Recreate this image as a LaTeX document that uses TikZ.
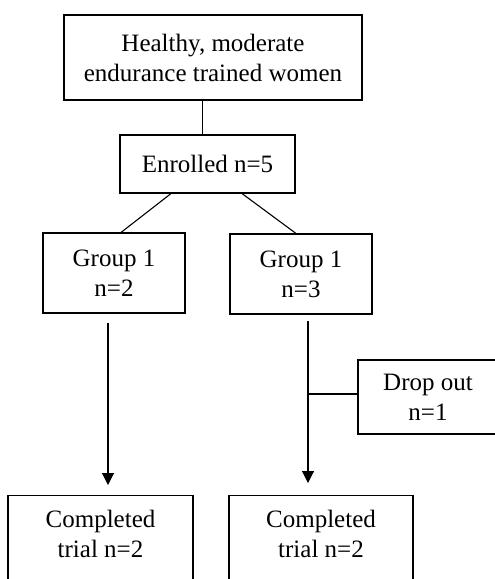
\documentclass[tikz,border=0pt]{standalone}
\usepackage{fontspec}
\setmainfont{Liberation Serif}
\usetikzlibrary{arrows.meta}
\tikzset{
  box/.style={draw, line width=1.1pt, rectangle, align=center, inner sep=0pt},
  link/.style={line width=1.1pt},
  tip/.style={-{Triangle[width=12pt,length=12pt]}},
}
\begin{document}
\begin{tikzpicture}[x=1pt, y=-1pt, font=\fontsize{25}{30}\selectfont]
\useasboundingbox (0,0) rectangle (495,579);
% screening
\node[box, minimum width=298pt, minimum height=85pt] (healthy) at (213,57.5)
  {Healthy, moderate\\endurance trained women};
\node[box, minimum width=175pt, minimum height=58pt] (enrolled) at (207.5,164) {Enrolled n=5};
% allocation
\node[box, minimum width=142pt, minimum height=80pt] (groupA) at (114,273) {Group 1\\n=2};
\node[box, minimum width=142pt, minimum height=80pt] (groupB) at (301,274) {Group 1\\n=3};
\node[box, minimum width=140pt, minimum height=74pt] (dropout) at (428,397) {Drop out\\n=1};
% follow-up, boxes run past the lower edge
\node[box, anchor=north, minimum width=185pt, inner ysep=15pt, text depth=60pt] (doneA) at (100.5,495)
  {Completed\\trial n=2};
\node[box, anchor=north, minimum width=184pt, inner ysep=15pt, text depth=60pt] (doneB) at (321,495)
  {Completed\\trial n=2};
\coordinate (armA) at (108,323);
\coordinate (tipA) at (108,485);
\coordinate (armB) at (308,321);
\coordinate (tipB) at (308,483);
\draw[link] ([xshift=-5pt]enrolled.north) -- ([xshift=-5pt]enrolled.north |- healthy.south);
\draw[link] ([xshift=-36.5pt]enrolled.south) -- ([xshift=7pt]groupA.north);
\draw[link] ([xshift=34.5pt]enrolled.south) -- ([xshift=-5pt]groupB.north);
\draw[link, tip] (armA) -- (tipA);
\draw[link, tip] (armB) -- (tipB);
\draw[link] ([yshift=3pt]dropout.west -| armB) -- ([yshift=3pt]dropout.west);
\end{tikzpicture}
\end{document}
